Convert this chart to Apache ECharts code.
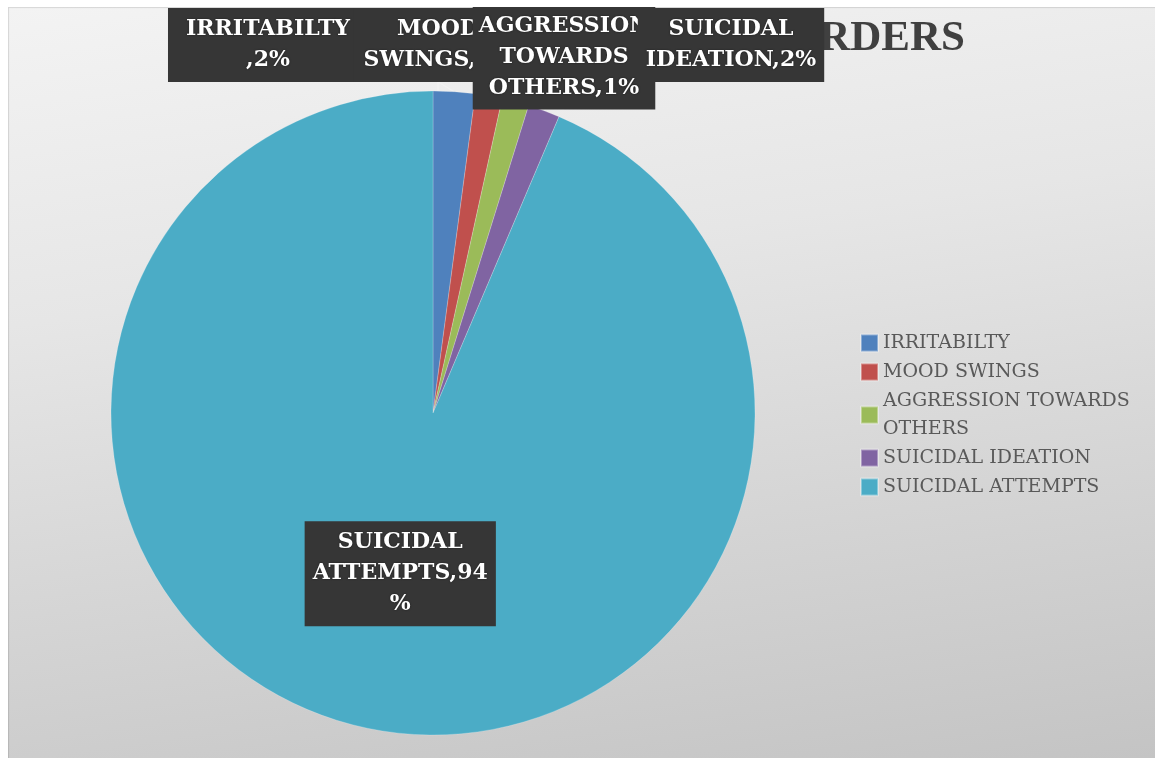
<!DOCTYPE html>
<html>
<head>
<meta charset="utf-8">
<script src="https://cdn.jsdelivr.net/npm/echarts@6/dist/echarts.min.js"></script>
<style>
  html, body { margin: 0; padding: 0; background: #ffffff; }
  #chart {
    position: absolute; left: 8px; top: 7px; width: 1147px; height: 751px;
    background: linear-gradient(172deg, #f3f3f3 0%, #e6e6e6 35%, #d6d6d6 65%, #c4c4c4 100%);
    box-shadow: inset 1px 1px 1px rgba(0,0,0,0.12);
  }
</style>
</head>
<body>
<div id="chart"></div>
<script>
// ---- data ----
const categories = ['IRRITABILTY', 'MOOD SWINGS', 'AGGRESSION TOWARDS OTHERS', 'SUICIDAL IDEATION', 'SUICIDAL ATTEMPTS'];
const legendNames = ['IRRITABILTY', 'MOOD SWINGS', 'AGGRESSION TOWARDS\nOTHERS', 'SUICIDAL IDEATION', 'SUICIDAL ATTEMPTS'];
const values = [2.1, 1.35, 1.35, 1.6, 93.6];
const colors = ['#4f81bd', '#c0504d', '#9bbb59', '#8064a2', '#4bacc6'];
const titleText = 'BEHAVIOURAL DISORDERS';
// how each data label's name is wrapped (as in the picture)
const labelNames = ['IRRITABILTY\n', 'MOOD\nSWINGS', 'AGGRESSION\nTOWARDS\nOTHERS', 'SUICIDAL\nIDEATION', 'SUICIDAL\nATTEMPTS'];
const pctOnOwnLine = [false, false, false, false, true];

// label layout (box centres, container px)
const labelCenters = [[260, 38], [430, 38], [556, 50], [723, 38]];
const labelPads = [[6, 18, 6, 18], [6, 10, 6, 10], [6, 6, 6, 6], [6, 8, 6, 8], [6, 8, 6, 8]];

const chart = echarts.init(document.getElementById('chart'), null, { renderer: 'canvas' });

const data = categories.map((c, i) => ({
  name: legendNames[i],
  value: values[i],
  itemStyle: { color: colors[i] },
  label: { position: i === 4 ? 'inside' : 'outside', padding: labelPads[i] }
}));

function fmtLabel(p) {
  const i = p.dataIndex;
  const v = Math.round(p.percent);
  return labelNames[i] + ',' + (pctOnOwnLine[i] ? v + '\n%' : v + '%');
}

chart.setOption({
  backgroundColor: 'transparent',
  animation: false,
  title: {
    text: titleText,
    right: 185,
    top: 5,
    z: 0,
    textStyle: {
      fontFamily: 'Liberation Serif',
      fontWeight: 'bold',
      fontSize: 43,
      color: '#404040'
    }
  },
  legend: {
    orient: 'vertical',
    left: 852,
    top: 322,
    padding: 0,
    itemGap: 1,
    itemWidth: 17,
    itemHeight: 17,
    icon: 'rect',
    data: legendNames,
    textStyle: {
      fontFamily: 'DejaVu Serif',
      fontSize: 19,
      lineHeight: 28,
      color: '#595959',
      padding: [0, 0, 0, 0]
    }
  },
  series: [{
    type: 'pie',
    z: 5,
    center: [425, 406],
    radius: 322,
    startAngle: 90,
    clockwise: true,
    avoidLabelOverlap: false,
    itemStyle: { borderColor: 'rgba(255,255,255,0.35)', borderWidth: 0.6 },
    label: {
      show: true,
      formatter: fmtLabel,
      color: '#ffffff',
      fontFamily: 'DejaVu Serif',
      fontWeight: 'bold',
      fontSize: 22,
      lineHeight: 31,
      align: 'center',
      backgroundColor: '#363636',
      textShadowColor: 'rgba(0,0,0,0.5)',
      textShadowBlur: 2
    },
    labelLine: {
      show: true,
      length: 10,
      length2: 10,
      lineStyle: { color: '#f2f2f2', width: 1.2 }
    },
    labelLayout: function (params) {
      const i = params.dataIndex;
      if (i < 4) {
        return { x: labelCenters[i][0], y: labelCenters[i][1], align: 'center', verticalAlign: 'middle' };
      }
      return {};
    },
    data: data
  }]
});
</script>
</body>
</html>
